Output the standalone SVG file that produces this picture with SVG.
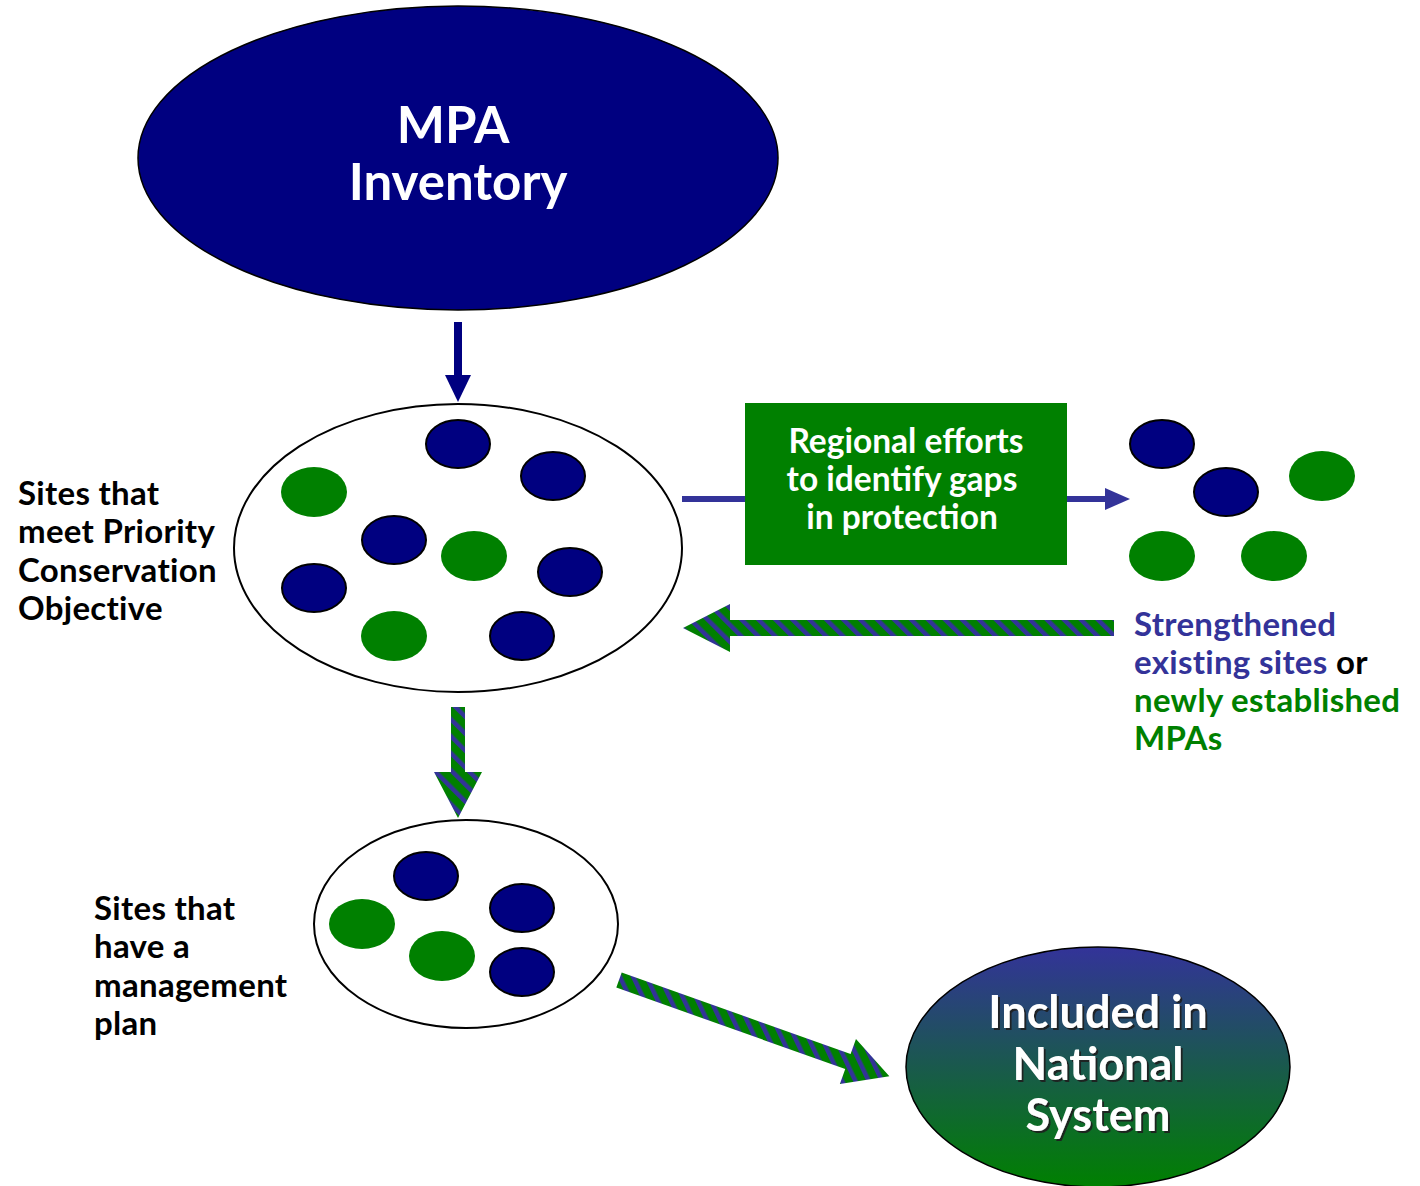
<svg xmlns="http://www.w3.org/2000/svg" width="1420" height="1186" viewBox="0 0 1420 1186">
<style>
text{font-family:Lato,"Open Sans","Liberation Sans",sans-serif;font-weight:bold}
.lbl{font-size:33px;fill:#000;letter-spacing:0.3px}
.wt{fill:#fff}
.nv{fill:#000080;stroke:#000;stroke-width:2}
.gr{fill:#008000}
.blue{fill:#333399}
.green{fill:#008000}
</style>
<defs>
<pattern id="stripes" width="12" height="12" patternUnits="userSpaceOnUse" patternTransform="rotate(-45)">
<rect width="12" height="12" fill="#008000"/>
<rect width="4.5" height="12" fill="#333399"/>
</pattern>
<linearGradient id="grad" x1="0" y1="0" x2="0" y2="1">
<stop offset="0" stop-color="#333399"/>
<stop offset="1" stop-color="#008000"/>
</linearGradient>
<filter id="shadow" x="-10%" y="-10%" width="120%" height="130%">
<feDropShadow dx="2" dy="2" stdDeviation="0.6" flood-color="#1a1a1a" flood-opacity="0.9"/>
</filter>
</defs>
<rect width="1420" height="1186" fill="#fff"/>

<g id="connectors">
<g id="arrow-inventory">
<rect x="454" y="322" width="8" height="54" fill="#000080"/>
<polygon points="445,375 471,375 458,402" fill="#000080"/>
</g>
<g id="arrow-gaps">
<rect x="682" y="496" width="64" height="6" fill="#333399"/>
<rect x="1066" y="496" width="40" height="6" fill="#333399"/>
<polygon points="1105,488 1130,499 1105,510" fill="#333399"/>
</g>
<polygon id="arrow-back" points="1114,620 730,620 730,604 683,628 730,652 730,636 1114,636" fill="url(#stripes)"/>
<polygon id="arrow-down" points="451,707 465,707 465,772 482,772 458,818 434,772 451,772" fill="url(#stripes)"/>
<polygon id="arrow-diag" transform="translate(619,980) rotate(19.6)" points="0,-8 243,-8 243,-24 287,0 243,24 243,8 0,8" fill="url(#stripes)"/>
</g>

<g id="node-inventory">
<ellipse cx="458" cy="158" rx="320" ry="152" fill="#000080" stroke="#000" stroke-width="1.5"/>
<text x="453" y="143" text-anchor="middle" class="wt" font-size="51">MPA</text>
<text x="458" y="200" text-anchor="middle" class="wt" font-size="51">Inventory</text>
</g>

<g id="node-priority">
<ellipse cx="458" cy="548" rx="224" ry="144" fill="#fff" stroke="#000" stroke-width="2"/>
<ellipse class="nv" cx="458" cy="444" rx="32" ry="24"/>
<ellipse class="nv" cx="553" cy="476" rx="32" ry="24"/>
<ellipse class="gr" cx="314" cy="492" rx="33" ry="25"/>
<ellipse class="nv" cx="394" cy="540" rx="32" ry="24"/>
<ellipse class="gr" cx="474" cy="556" rx="33" ry="25"/>
<ellipse class="nv" cx="570" cy="572" rx="32" ry="24"/>
<ellipse class="nv" cx="314" cy="588" rx="32" ry="24"/>
<ellipse class="gr" cx="394" cy="636" rx="33" ry="25"/>
<ellipse class="nv" cx="522" cy="636" rx="32" ry="24"/>
</g>

<g id="label-priority">
<text class="lbl" x="18" y="505">Sites that</text>
<text class="lbl" x="18" y="543">meet Priority</text>
<text class="lbl" x="18" y="582">Conservation</text>
<text class="lbl" x="18" y="620">Objective</text>
</g>

<g id="node-regional">
<rect x="745" y="403" width="322" height="162" fill="#008000"/>
<text x="906" y="453" text-anchor="middle" class="wt" font-size="33.5">Regional efforts</text>
<text x="902" y="491" text-anchor="middle" class="wt" font-size="33.5">to identify gaps</text>
<text x="902" y="529" text-anchor="middle" class="wt" font-size="33.5">in protection</text>
</g>

<g id="node-new-sites">
<ellipse class="nv" cx="1162" cy="444" rx="32" ry="24"/>
<ellipse class="nv" cx="1226" cy="492" rx="32" ry="24"/>
<ellipse class="gr" cx="1322" cy="476" rx="33" ry="25"/>
<ellipse class="gr" cx="1162" cy="556" rx="33" ry="25"/>
<ellipse class="gr" cx="1274" cy="556" rx="33" ry="25"/>
</g>

<g id="label-strengthened">
<text class="lbl blue" x="1134" y="636">Strengthened</text>
<text class="lbl" x="1134" y="674"><tspan class="blue">existing sites</tspan> or</text>
<text class="lbl green" x="1134" y="712">newly established</text>
<text class="lbl green" x="1134" y="750">MPAs</text>
</g>

<g id="node-management">
<ellipse cx="466" cy="924" rx="152" ry="104" fill="#fff" stroke="#000" stroke-width="2"/>
<ellipse class="nv" cx="426" cy="876" rx="32" ry="24"/>
<ellipse class="nv" cx="522" cy="908" rx="32" ry="24"/>
<ellipse class="gr" cx="362" cy="924" rx="33" ry="25"/>
<ellipse class="gr" cx="442" cy="956" rx="33" ry="25"/>
<ellipse class="nv" cx="522" cy="972" rx="32" ry="24"/>
</g>

<g id="label-management">
<text class="lbl" x="94" y="920">Sites that</text>
<text class="lbl" x="94" y="958">have a</text>
<text class="lbl" x="94" y="997">management</text>
<text class="lbl" x="94" y="1035">plan</text>
</g>

<g id="node-national">
<ellipse cx="1098" cy="1067" rx="192" ry="120" fill="url(#grad)" stroke="#000" stroke-width="1.5"/>
<g filter="url(#shadow)">
<text x="1098" y="1028" text-anchor="middle" class="wt" font-size="45">Included in</text>
<text x="1098" y="1080" text-anchor="middle" class="wt" font-size="45">National</text>
<text x="1098" y="1131" text-anchor="middle" class="wt" font-size="45">System</text>
</g>
</g>
</svg>
